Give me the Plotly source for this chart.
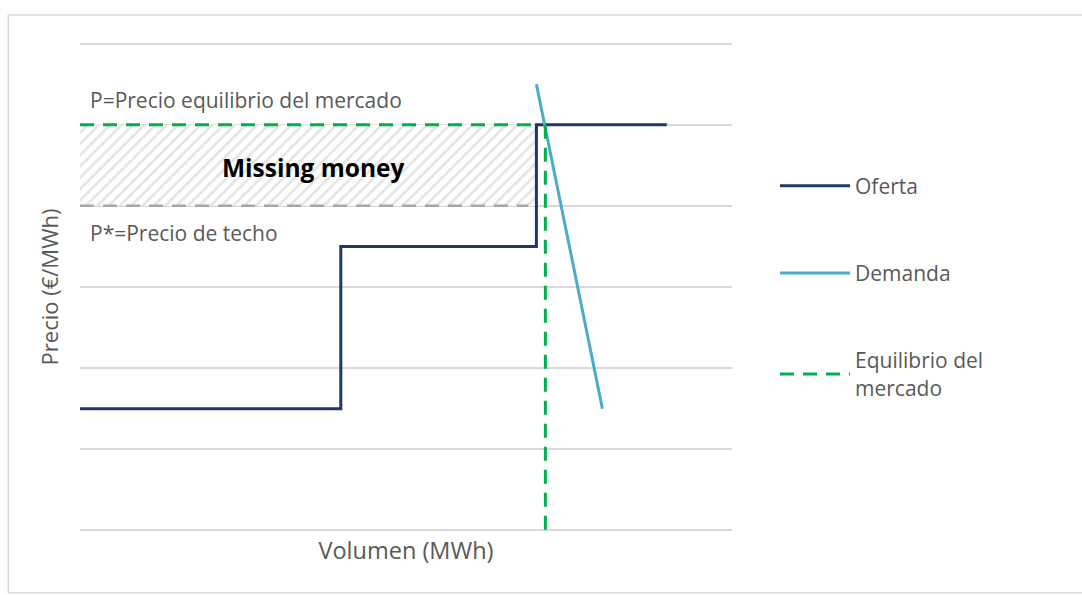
import plotly.graph_objects as go

# ---- data (arbitrary units) ----
oferta_x = [0, 3.2, 3.2, 5.6, 5.6, 7.2]
oferta_y = [1.5, 1.5, 3.5, 3.5, 5.0, 5.0]

demanda_x = [5.6, 6.41]
demanda_y = [5.5, 1.5]

precio_equilibrio = 5.0
precio_techo = 4.0
volumen_equilibrio = 5.71
x_hatch_end = 5.6

eq_h_x = [0, 5.6]
eq_v_y = [0, precio_equilibrio]
techo_x = [0, 5.5]

NAVY = "#203864"
BLUE = "#4BACC6"
GREEN = "#00B050"
GREY = "#A6A6A6"
TXT = "#595959"
FONT = "Open Sans"

fig = go.Figure()

# hatched missing-money area
fig.add_trace(go.Scatter(
    x=[0, x_hatch_end, x_hatch_end, 0, 0],
    y=[precio_techo, precio_techo, precio_equilibrio, precio_equilibrio, precio_techo],
    mode="lines", fill="toself", line=dict(width=0),
    fillcolor="rgba(0,0,0,0)",
    fillpattern=dict(shape="/", fgcolor="#c9c9c9", bgcolor="white", size=8, solidity=0.32),
    showlegend=False, hoverinfo="skip"))

# ceiling price (grey dashed)
fig.add_trace(go.Scatter(
    x=techo_x, y=[precio_techo, precio_techo], mode="lines",
    line=dict(color=GREY, width=2.5, dash="14px,9px"), showlegend=False, hoverinfo="skip"))

# supply
fig.add_trace(go.Scatter(
    x=oferta_x, y=oferta_y, mode="lines", name="Oferta", legendgroup="a",
    line=dict(color=NAVY, width=3)))

# demand
fig.add_trace(go.Scatter(
    x=demanda_x, y=demanda_y, mode="lines", name="Demanda", legendgroup="b",
    line=dict(color=BLUE, width=3)))

# market equilibrium (horizontal + vertical dashed green)
fig.add_trace(go.Scatter(
    x=eq_h_x + [None, volumen_equilibrio, volumen_equilibrio],
    y=[precio_equilibrio, precio_equilibrio, None] + eq_v_y[::-1],
    mode="lines", name="Equilibrio del<br>mercado", legendgroup="c",
    line=dict(color=GREEN, width=3, dash="14px,9px")))

fig.add_annotation(x=0.1, y=5.3, xref="x", yref="y", text="P=Precio equilibrio del mercado",
                   showarrow=False, xanchor="left", yanchor="middle",
                   font=dict(family=FONT, size=21, color=TXT))
fig.add_annotation(x=0.1, y=3.66, xref="x", yref="y", text="P*=Precio de techo",
                   showarrow=False, xanchor="left", yanchor="middle",
                   font=dict(family=FONT, size=21, color=TXT))
fig.add_annotation(x=2.86, y=4.47, xref="x", yref="y", text="<b>Missing money</b>",
                   showarrow=False, xanchor="center", yanchor="middle",
                   font=dict(family=FONT, size=24.5, color="black"))

# outer chart frame
fig.add_shape(type="rect", xref="paper", yref="paper",
              x0=-0.11, x1=1.7, y0=-0.124, y1=1.055,
              line=dict(color="#d9d9d9", width=1.5), fillcolor="rgba(0,0,0,0)", layer="below")

fig.update_layout(
    width=1082, height=595,
    margin=dict(l=80, r=350, t=42, b=63),
    paper_bgcolor="white", plot_bgcolor="white",
    font=dict(family=FONT, color=TXT, size=16),
    xaxis=dict(range=[0, 8], showgrid=False, zeroline=False, showticklabels=False,
               showline=False, ticks="",
               title=dict(text="Volumen (MWh)", standoff=10,
                          font=dict(family=FONT, size=23.5, color=TXT))),
    yaxis=dict(range=[-0.02, 6.02], tickvals=[0, 1, 2, 3, 4, 5, 6], showgrid=True,
               gridcolor="#d9d9d9", gridwidth=2, zeroline=False, showticklabels=False,
               showline=False, ticks="",
               title=dict(text="Precio (€/MWh)", standoff=14,
                          font=dict(family=FONT, size=22, color=TXT))),
    legend=dict(x=1.066, y=0.748, xanchor="left", yanchor="top",
                font=dict(family=FONT, size=21, color=TXT),
                tracegroupgap=57, itemwidth=70, traceorder="grouped",
                bgcolor="rgba(0,0,0,0)"),
)

fig.write_html("out.html")
